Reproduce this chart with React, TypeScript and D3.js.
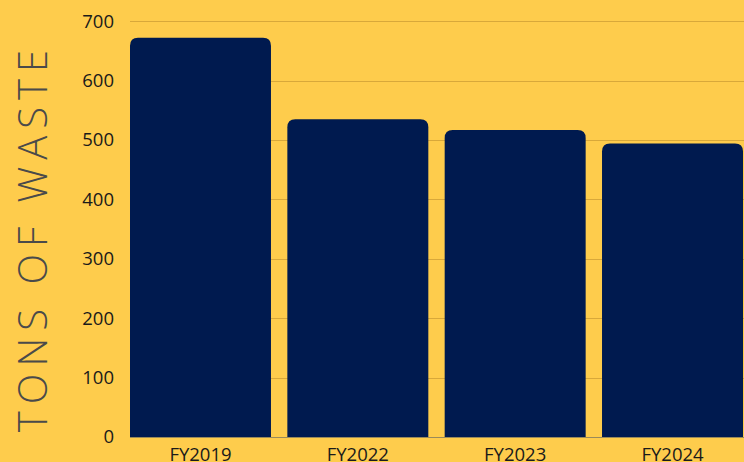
import React from "react";
import * as d3 from "d3";

const categories = ["FY2019", "FY2022", "FY2023", "FY2024"];
const tons = [672, 535, 517, 494];
const yTicks = [0, 100, 200, 300, 400, 500, 600, 700];

const W = 744;
const H = 462;

// top-rounded bar path
function barPath(x: number, y: number, w: number, h: number, r: number) {
  return `M${x},${y + h}V${y + r}Q${x},${y} ${x + r},${y}H${x + w - r}Q${x + w},${y} ${x + w},${y + r}V${y + h}Z`;
}

export default function App() {
  const x = d3.scaleBand().domain(categories).range([130, 743]).paddingInner(0.104).paddingOuter(0);
  const y = d3.scaleLinear().domain([0, 700]).range([437, 21.2]);

  return (
    <svg width={W} height={H} style={{ position: "absolute", left: 0, top: 0, display: "block" }}>
      <rect x={0} y={0} width={W} height={H} fill="#FECC4C" />
      {yTicks.map((t) => (
        <g key={t}>
          <line x1={130} x2={W} y1={Math.round(y(t)) + 0.5} y2={Math.round(y(t)) + 0.5} stroke={t === 0 ? "#9a8a5a" : "#D8A83A"} strokeWidth={1} />
          <text x={114} y={y(t)} dy="0.35em" textAnchor="end" fontFamily="Open Sans" fontSize={18.5} fill="#1a1a1a">
            {t}
          </text>
        </g>
      ))}
      {categories.map((c, i) => (
        <path key={c} d={barPath(x(c)!, y(tons[i]), x.bandwidth(), y(0) - y(tons[i]), 8)} fill="#001A4F" />
      ))}
      {categories.map((c) => (
        <text key={c} x={x(c)! + x.bandwidth() / 2} y={461} textAnchor="middle" fontFamily="Open Sans" fontSize={18.5} fill="#1a1a1a">
          {c}
        </text>
      ))}
      <text
        transform={`translate(47,${(45 + 430) / 2}) rotate(-90)`}
        textAnchor="middle"
        fontFamily="Open Sans"
        fontWeight={300}
        fontSize={40}
        letterSpacing={7}
        fill="#4a4a4a"
      >
        TONS OF WASTE
      </text>
    </svg>
  );
}
